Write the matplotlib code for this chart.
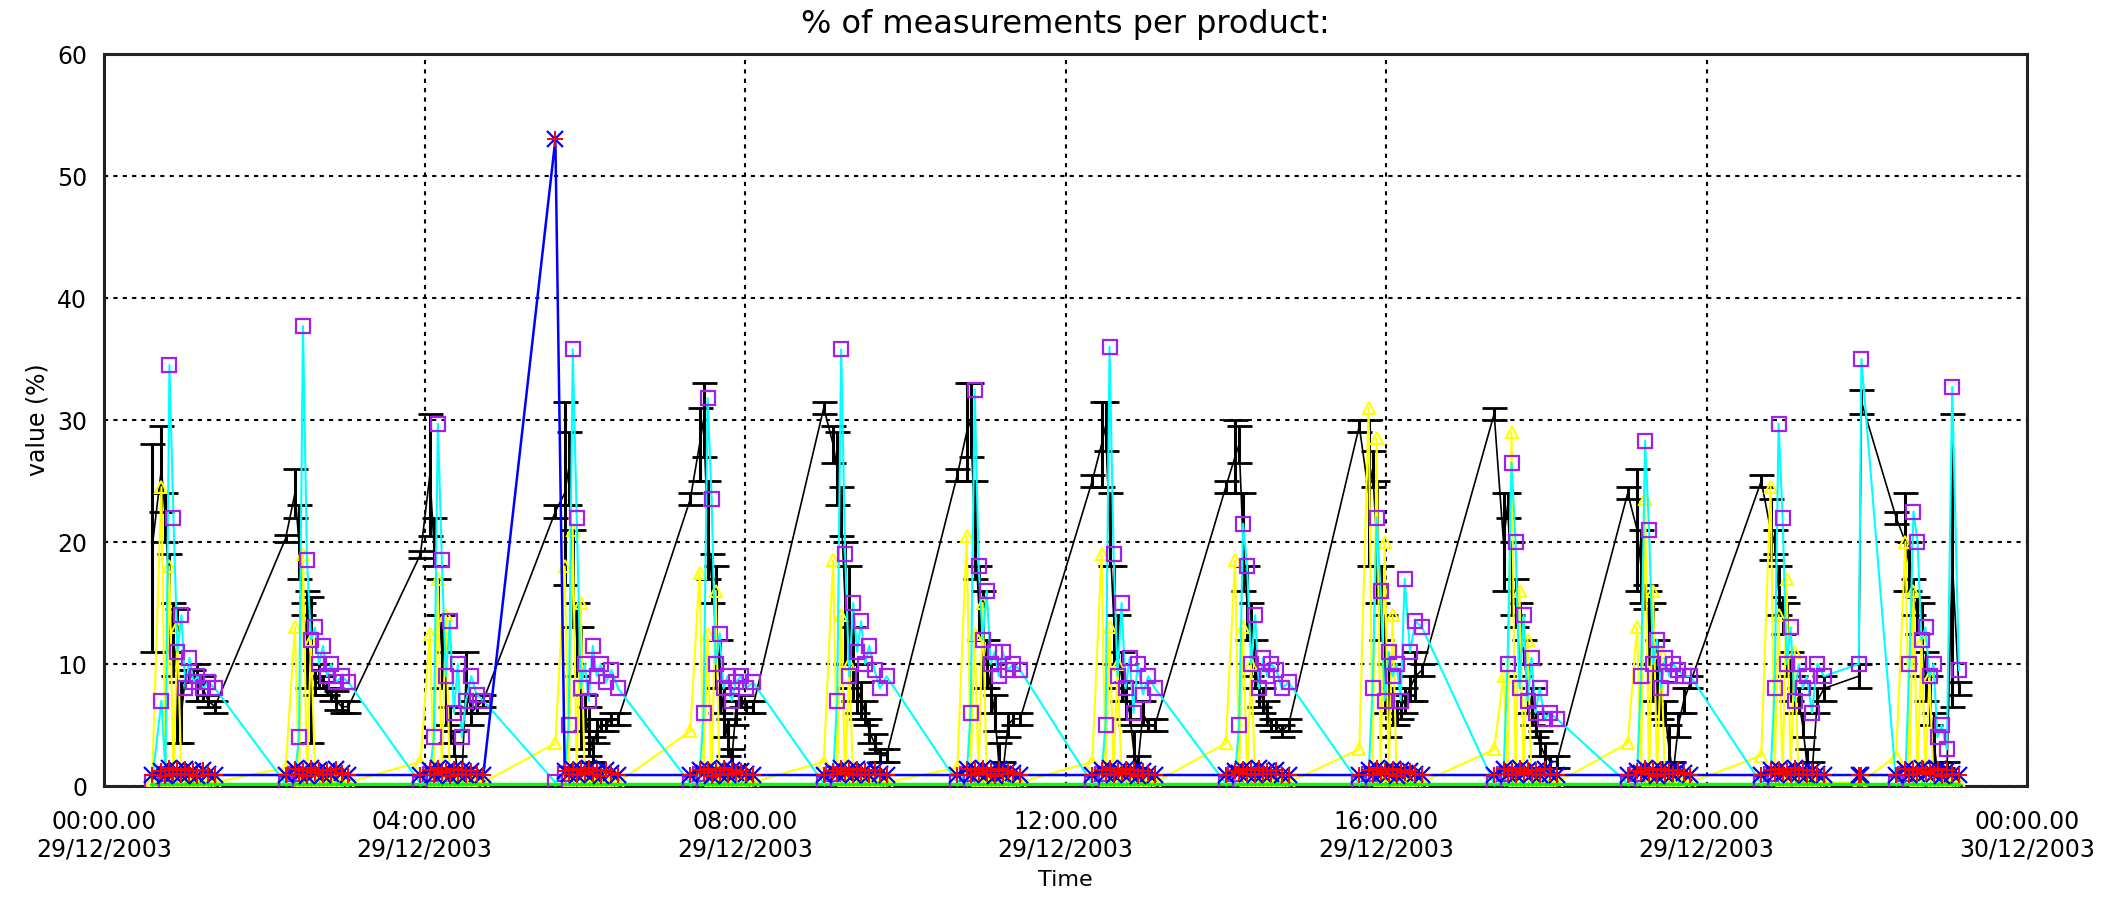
import matplotlib
matplotlib.use("Agg")
import matplotlib.pyplot as plt
import matplotlib.dates as mdates
from datetime import datetime, timedelta

# Start of each measurement run (29/12/2003) and sample offsets inside a run (minutes)
run_starts = ["00:36", "02:16", "03:57", "05:38", "07:19", "08:59", "10:39",
              "12:20", "14:00", "15:40", "17:21", "19:01", "20:41", "22:22"]
sample_offsets_min = [0, 7, 10, 13, 16, 19, 22, 25, 28, 31, 34, 38, 42, 47]

# Two stray samples between the last two runs
extra_times = ["21:54", "21:56"]

# Product A: mean value and spread (black, error bars)
prod_a_mean = [
    [19.5, 26, 22, 15, 12, 9, 6, 9, 9, 9, 8.5, 8, 7, 6.5],
    [20.3, 24, 20, 14.5, 12, 9.5, 8.5, 9, 8.5, 8, 7.5, 7, 6.5, 6.5],
    [19, 25.5, 20, 15.5, 11, 8, 5, 3.5, 1, 0.5, 8.5, 6, 6.5, 7],
    [22.5, 24, 26, 17, 12, 8, 6, 4.5, 3, 4.5, 5, 5, 5.5, 5.5],
    [23.5, 28, 30, 21, 17, 13, 9, 6, 4, 2, 6, 7, 6.5, 6.5],
    [31, 28, 26, 22.5, 15, 13, 10, 8, 7, 6, 4.5, 3.5, 2.5, 2.5],
    [25.5, 29, 30, 21, 15, 12, 10, 8, 6, 2, 1, 5, 5.5, 5.5],
    [25, 28, 29.5, 21, 14, 11, 9, 7, 6, 3, 1.5, 6, 5, 5],
    [24.5, 27, 28, 20, 15, 12, 10, 8, 7, 6, 5, 5, 4.5, 5],
    [29.5, 24, 26, 20, 15, 10, 7, 6.5, 6, 6.5, 7, 8, 9, 9.5],
    [30.5, 20, 23, 17, 15, 12, 11, 8, 6.5, 5, 3.5, 2.5, 2, 2],
    [24, 21, 18, 15.5, 13, 11, 9, 7, 6, 3, 1, 5, 7, 8.5],
    [25, 21, 20, 16, 14, 12, 9, 7.5, 7, 5, 2, 1, 7, 8],
    [22, 20, 18, 15.5, 14, 12, 9, 7, 4, 1, 0.5, 1, 18.5, 8],
]
prod_a_err = [
    [8.5, 3.5, 2, 4, 3, 5.5, 2.5, 0.5, 0.5, 0.5, 1.5, 1, 0.5, 0.5],
    [0.3, 2, 3, 0.5, 4, 6, 1, 1, 0.5, 0.5, 0.5, 0.8, 0.5, 0.5],
    [0.3, 5, 2, 1.5, 3, 3, 1.5, 1, 0.5, 0.5, 2.5, 1, 0.5, 0.5],
    [0.5, 7.5, 3, 4, 3, 5, 1.5, 2, 1, 1, 0.5, 0.5, 0.5, 0.5],
    [0.5, 3, 3, 4, 2, 5, 3, 2, 1.5, 1, 1, 0.5, 0.5, 0.5],
    [0.5, 1.5, 3, 2, 5, 5, 3, 2, 1.5, 1, 1, 0.8, 0.5, 0.5],
    [0.5, 4, 3, 4, 3, 4, 2, 2, 1.5, 1.5, 1, 1, 0.5, 0.5],
    [0.5, 3.5, 2, 3, 4, 3, 2, 1.5, 1, 1.5, 1, 1, 0.5, 0.5],
    [0.5, 3, 1.5, 4, 3, 3, 2, 1.5, 1, 1, 0.5, 0.5, 0.5, 0.5],
    [0.5, 6, 1.5, 5, 3, 4, 3, 1.5, 1, 1, 1, 1, 2, 0.5],
    [0.5, 4, 1, 3, 2, 3, 1, 2, 1.5, 1, 1, 1, 0.5, 0.5],
    [0.5, 5, 3, 1, 3, 4, 3, 1.5, 1, 2, 1, 1, 1, 0.5],
    [0.5, 2.5, 1, 2, 1.5, 3, 2, 1.5, 1, 1, 1, 1, 1, 1],
    [0.5, 4, 2, 1.5, 1.5, 3, 2, 2, 2, 1, 1, 1, 12, 0.5],
]

# Product B (cyan line, purple squares)
prod_b = [
    [0.3, 7, 1, 34.5, 22, 11, 14, 8, 10.5, 8.5, 9, 8, 8.5, 8],
    [0.2, 1, 4, 37.7, 18.5, 12, 13, 10, 11.5, 9, 10, 8.5, 9, 8.5],
    [0.2, 1, 4, 29.7, 18.5, 9, 13.5, 6, 10, 4, 7, 9, 7.5, 7],
    [0.3, 1, 5, 35.8, 22, 8, 10, 7, 11.5, 9, 10, 8.5, 9.5, 8],
    [0.2, 1, 6, 31.8, 23.5, 10, 12.5, 8, 9, 7, 8.5, 9, 8, 8.5],
    [0.2, 1, 7, 35.8, 19, 9, 15, 11, 13.5, 10, 11.5, 9.5, 8, 9],
    [0.3, 1, 6, 32.5, 18, 12, 16, 10, 11, 9, 11, 9.5, 10, 9.5],
    [0.2, 1, 5, 36, 19, 9, 15, 8, 10.5, 6, 10, 7.5, 9, 8],
    [0.2, 1, 5, 21.5, 18, 10, 14, 8, 10.5, 9, 10, 9.5, 8, 8.5],
    [0.2, 1, 8, 22, 16, 7, 11, 9, 10, 7, 17, 11, 13.5, 13],
    [0.2, 1, 10, 26.5, 20, 8, 14, 7, 10.5, 6, 8, 5.5, 6, 5.5],
    [0.2, 1, 9, 28.3, 21, 10, 12, 8, 10.5, 9, 10, 9.5, 9, 9],
    [0.2, 1, 8, 29.7, 22, 10, 13, 7, 10, 8, 9, 6, 10, 9],
    [0.2, 1, 10, 22.5, 20, 12, 13, 9, 10, 4, 5, 3, 32.7, 9.5],
]

# Product C (yellow, triangles)
prod_c = [
    [0.5, 24.5, 0.5, 18, 0.5, 13, 0.5, 1, 0.3, 0.5, 0.3, 0.5, 0.3, 0.3],
    [1.5, 13, 0.5, 19, 0.5, 12, 1, 0.5, 0.3, 0.5, 0.3, 0.5, 0.3, 0.3],
    [2, 12.5, 0.5, 17, 1, 14, 0.5, 1, 0.3, 0.5, 0.3, 0.5, 0.3, 0.3],
    [3.5, 18, 0.5, 21, 1, 15, 0.5, 1, 0.3, 0.5, 0.3, 0.5, 0.3, 0.3],
    [4.5, 17.5, 1, 12.5, 0.5, 16, 0.5, 1, 0.3, 0.5, 0.3, 0.5, 0.3, 0.3],
    [2, 18.5, 1, 14, 0.5, 10, 0.5, 1, 0.3, 0.5, 0.3, 0.5, 0.3, 0.3],
    [1.5, 20.5, 1, 12.5, 0.5, 15, 0.5, 1, 0.3, 0.5, 0.3, 0.5, 0.3, 0.3],
    [2, 19, 0.5, 13, 1, 10, 0.5, 1, 0.3, 0.5, 0.3, 0.5, 0.3, 0.3],
    [3.5, 18.5, 1, 13, 0.5, 10, 0.5, 1, 0.3, 0.5, 0.3, 0.5, 0.3, 0.3],
    [3, 31, 1, 28.5, 0.5, 20, 1, 14, 0.3, 0.5, 0.3, 0.5, 0.3, 0.3],
    [3, 9, 1, 29, 0.5, 16, 1, 12, 0.3, 0.5, 0.3, 0.5, 0.3, 0.3],
    [3.5, 13, 1, 23.5, 0.5, 16, 1, 11, 0.3, 0.5, 0.3, 0.5, 0.3, 0.3],
    [2.5, 24.5, 1, 14, 0.5, 17, 1, 11, 0.3, 0.5, 0.3, 0.5, 0.3, 0.3],
    [2.5, 20, 1, 16, 0.5, 12, 1, 9, 0.3, 0.5, 0.3, 0.5, 0.3, 0.3],
]

# Product D (blue line, asterisks)
prod_d = [
    [0.9, 1.2, 0.8, 1.5, 1, 1.3, 0.9, 1.4, 1, 1.2, 0.8, 1.3, 1, 0.9],
    [0.9, 1.4, 1, 1.2, 0.8, 1.5, 1.1, 1.3, 0.9, 1.2, 1, 1.4, 1.1, 0.9],
    [0.9, 1.3, 0.9, 1.5, 1.1, 1.2, 0.8, 1.4, 1, 1.3, 0.9, 1.2, 1, 0.9],
    [53, 1.2, 1, 1.4, 0.9, 1.3, 1.1, 1.5, 1, 1.2, 0.8, 1.3, 1.1, 0.9],
    [0.9, 1.3, 1.1, 1.4, 0.8, 1.2, 1, 1.5, 0.9, 1.3, 1.1, 1.2, 1, 0.9],
    [0.9, 1.2, 1, 1.5, 1.1, 1.3, 0.9, 1.4, 1, 1.2, 0.9, 1.3, 1, 0.9],
    [0.9, 1.4, 0.9, 1.3, 1.1, 1.5, 1, 1.2, 0.8, 1.4, 1, 1.2, 1.1, 0.9],
    [0.9, 1.3, 1, 1.5, 0.9, 1.2, 1.1, 1.4, 1, 1.3, 0.8, 1.2, 1, 0.9],
    [0.9, 1.2, 1.1, 1.4, 1, 1.3, 0.9, 1.5, 1, 1.2, 1, 1.3, 0.9, 0.9],
    [0.9, 1.3, 0.9, 1.5, 1.1, 1.2, 1, 1.4, 0.8, 1.3, 1.1, 1.2, 1, 0.9],
    [0.9, 1.4, 1, 1.2, 0.9, 1.5, 1.1, 1.3, 1, 1.2, 0.9, 1.4, 1, 0.9],
    [0.9, 1.2, 1.1, 1.5, 1, 1.3, 0.8, 1.4, 1, 1.2, 1, 1.3, 1.1, 0.9],
    [0.9, 1.3, 1, 1.4, 1.1, 1.2, 0.9, 1.5, 1, 1.3, 0.9, 1.2, 1, 0.9],
    [0.9, 1.4, 0.9, 1.3, 1, 1.5, 1.1, 1.2, 1, 1.4, 0.8, 1.3, 1, 0.9],
]

# Product E (green, just above zero)
prod_e = [
    [0.2, 0.2, 0.2, 0.2, 0.2, 0.2, 0.2, 0.2, 0.2, 0.2, 0.2, 0.2, 0.2, 0.2],
    [0.2, 0.2, 0.2, 0.2, 0.2, 0.2, 0.2, 0.2, 0.2, 0.2, 0.2, 0.2, 0.2, 0.2],
    [0.2, 0.2, 0.2, 0.2, 0.2, 0.2, 0.2, 0.2, 0.2, 0.2, 0.2, 0.2, 0.2, 0.2],
    [0.2, 0.2, 0.2, 0.2, 0.2, 0.2, 0.2, 0.2, 0.2, 0.2, 0.2, 0.2, 0.2, 0.2],
    [0.2, 0.2, 0.2, 0.2, 0.2, 0.2, 0.2, 0.2, 0.2, 0.2, 0.2, 0.2, 0.2, 0.2],
    [0.2, 0.2, 0.2, 0.2, 0.2, 0.2, 0.2, 0.2, 0.2, 0.2, 0.2, 0.2, 0.2, 0.2],
    [0.2, 0.2, 0.2, 0.2, 0.2, 0.2, 0.2, 0.2, 0.2, 0.2, 0.2, 0.2, 0.2, 0.2],
    [0.2, 0.2, 0.2, 0.2, 0.2, 0.2, 0.2, 0.2, 0.2, 0.2, 0.2, 0.2, 0.2, 0.2],
    [0.2, 0.2, 0.2, 0.2, 0.2, 0.2, 0.2, 0.2, 0.2, 0.2, 0.2, 0.2, 0.2, 0.2],
    [0.2, 0.2, 0.2, 0.2, 0.2, 0.2, 0.2, 0.2, 0.2, 0.2, 0.2, 0.2, 0.2, 0.2],
    [0.2, 0.2, 0.2, 0.2, 0.2, 0.2, 0.2, 0.2, 0.2, 0.2, 0.2, 0.2, 0.2, 0.2],
    [0.2, 0.2, 0.2, 0.2, 0.2, 0.2, 0.2, 0.2, 0.2, 0.2, 0.2, 0.2, 0.2, 0.2],
    [0.2, 0.2, 0.2, 0.2, 0.2, 0.2, 0.2, 0.2, 0.2, 0.2, 0.2, 0.2, 0.2, 0.2],
    [0.2, 0.2, 0.2, 0.2, 0.2, 0.2, 0.2, 0.2, 0.2, 0.2, 0.2, 0.2, 0.2, 0.2],
]

# Values of the two stray samples
extra_a_mean = [9, 31.5]
extra_a_err = [1, 1]
extra_b = [10, 35]
extra_c = [0.3, 0.3]
extra_d = [0.9, 0.9]
extra_e = [0.2, 0.2]

title_text = "% of measurements per product:"
y_label = "value (%)"
x_label = "Time"
tick_hours = [0, 4, 8, 12, 16, 20, 24]

# ---------------------------------------------------------------------------
day0 = datetime(2003, 12, 29)


def at(hhmm):
    h, m = hhmm.split(":")
    return day0 + timedelta(hours=int(h), minutes=int(m))


records = []
for i, start in enumerate(run_starts):
    t0 = at(start)
    for j, off in enumerate(sample_offsets_min):
        records.append((t0 + timedelta(minutes=off), prod_a_mean[i][j], prod_a_err[i][j],
                        prod_b[i][j], prod_c[i][j], prod_d[i][j], prod_e[i][j]))
for k, hhmm in enumerate(extra_times):
    records.append((at(hhmm), extra_a_mean[k], extra_a_err[k], extra_b[k],
                    extra_c[k], extra_d[k], extra_e[k]))
records.sort(key=lambda r: r[0])

t = [r[0] for r in records]
a_mean = [r[1] for r in records]
a_err = [r[2] for r in records]
b = [r[3] for r in records]
c = [r[4] for r in records]
d = [r[5] for r in records]
e = [r[6] for r in records]

fig = plt.figure(figsize=(21.28, 9.10), dpi=100)
ax = fig.add_axes([104 / 2128, 1 - 786 / 910, (2027 - 104) / 2128, (786 - 54) / 910])

ax.errorbar(t, a_mean, yerr=a_err, color="black", lw=1.2, elinewidth=2.2,
            capsize=9, capthick=2.0, zorder=3)
ax.plot(t, c, color="#ffff00", lw=1.5, marker="^", ms=9, mfc="none",
        mec="#ffff00", mew=1.5, zorder=4)
ax.plot(t, e, color="#00ff00", lw=2.5, marker="+", ms=5, mew=1.0, zorder=4.5)
ax.plot(t, b, color="#00ffff", lw=1.5, zorder=5)
ax.plot(t, b, ls="none", marker="s", ms=10, mfc="none", mec="#a020f0", mew=1.6, zorder=6)
ax.plot(t, d, color="#0000ff", lw=1.8, marker="x", ms=11, mew=1.6, zorder=7)
ax.plot(t, d, ls="none", marker="+", ms=11, mew=1.4, color="#ff0000", zorder=8)

ax.set_xlim(day0, day0 + timedelta(days=1))
ax.set_ylim(0, 60)
ax.set_yticks(range(0, 61, 10))
ax.set_xticks([day0 + timedelta(hours=h) for h in tick_hours])
ax.xaxis.set_major_formatter(mdates.DateFormatter("%H:%M.%S\n%d/%m/%Y"))

ax.grid(True, color="black", linestyle=(0, (2, 2.5)), linewidth=1.5)
ax.tick_params(axis="both", length=0, labelsize=17, colors="black")
ax.tick_params(axis="x", pad=17)
ax.tick_params(axis="y", pad=12)
for s in ax.spines.values():
    s.set_linewidth(2.2)
    s.set_color("#222222")

fig.text(1065 / 2128, 1 - 25 / 910, title_text, ha="center", va="center", fontsize=23)
fig.text(37 / 2128, 1 - 420 / 910, y_label, ha="center", va="center", rotation=90, fontsize=17)
fig.text(1065 / 2128, 1 - 880 / 910, x_label, ha="center", va="center", fontsize=16)

fig.savefig("out.png", dpi=100, facecolor="white")
